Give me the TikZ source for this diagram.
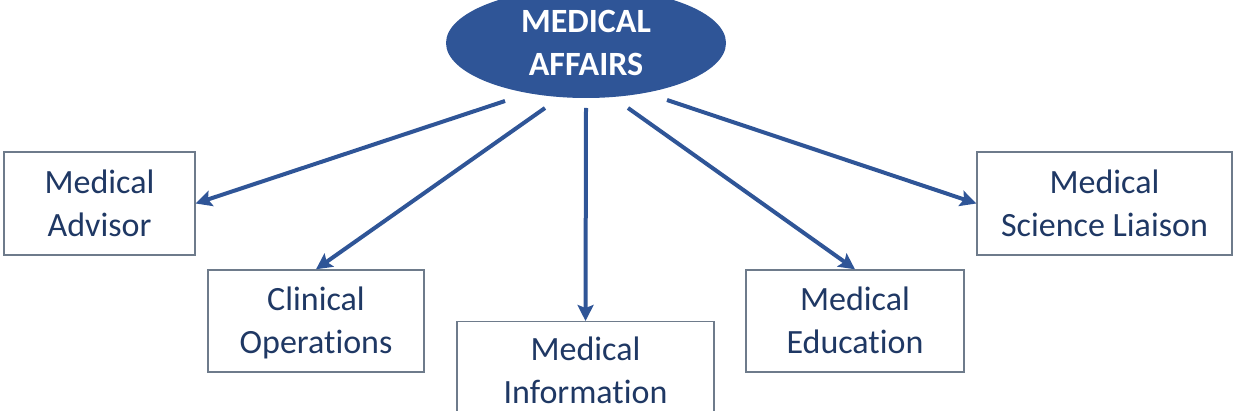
\documentclass[tikz,border=0pt]{standalone}
\usepackage{fontspec}
\setmainfont[Ligatures=NoCommon]{Carlito}
\usetikzlibrary{shapes.geometric,arrows.meta}
\definecolor{navy}{HTML}{1F3864}
\definecolor{affblue}{HTML}{2F5597}
\definecolor{boxgray}{HTML}{6E7B8B}
\newcommand\rolestrut{\rule[-5.2pt]{0pt}{21.5pt}}
\tikzset{
  rolebox/.style={draw=boxgray, line width=0.7pt, fill=white, text=navy, align=center,
    inner sep=0pt, font=\fontsize{17}{21.5}\selectfont},
  link/.style={->, draw=affblue, line width=2pt}
}
\begin{document}
\begin{tikzpicture}[x=0.5pt, y=-0.5pt, >={Stealth[length=8pt,width=8pt,inset=1.5pt]}]
    \clip (0,0) rectangle (1236,411);
    % Head
    \node[ellipse, fill=affblue, text=white, align=center, inner sep=0pt,
      minimum width=140pt, minimum height=55pt,
      font=\bfseries\fontsize{17}{21.5}\selectfont] (affairs) at (586,43) {MEDICAL\\AFFAIRS};
    % Roles
    \node[rolebox, minimum width=95.5pt, minimum height=51.5pt] (advisor) at (99.5,203.5) {\rolestrut Medical\\\rolestrut Advisor};
    \node[rolebox, minimum width=108pt, minimum height=51pt] (clinical) at (316,321) {\rolestrut Clinical\\\rolestrut Operations};
    \node[rolebox, minimum width=128.5pt, minimum height=49pt, anchor=north] (info) at (585.5,321) {\rolestrut Medical\\\rolestrut Information};
    \node[rolebox, minimum width=109pt, minimum height=51pt] (education) at (855,321) {\rolestrut Medical\\\rolestrut Education};
    \node[rolebox, minimum width=127.5pt, minimum height=51.5pt] (liaison) at (1104.5,203.5) {\rolestrut Medical\\\rolestrut Science Liaison};
    % Arrow starts below the head
    \coordinate (s1) at (505,101);
    \coordinate (s2) at (545,108);
    \coordinate (s3) at (586,108);
    \coordinate (s4) at (628,108);
    \coordinate (s5) at (667,100);
    % Links
    \draw[link] (s1) -- (advisor.east);
    \draw[link] (s2) -- (clinical.north);
    \draw[link] (s3) -- (info.north);
    \draw[link] (s4) -- (education.north);
    \draw[link] (s5) -- (liaison.west);
\end{tikzpicture}
\end{document}
